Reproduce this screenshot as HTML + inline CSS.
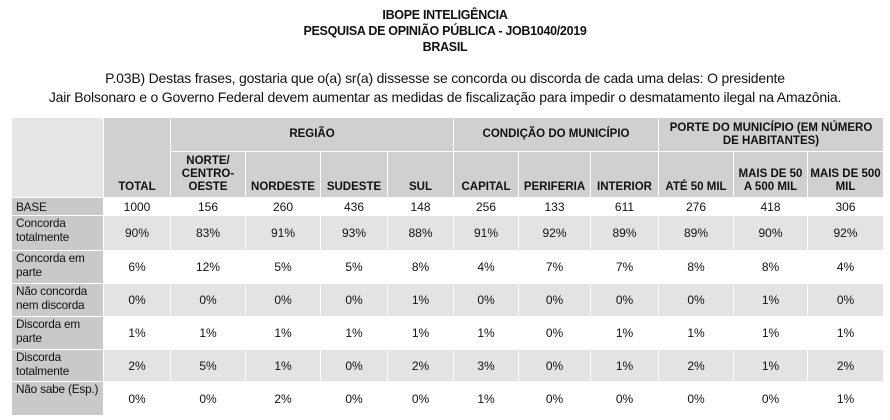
<!DOCTYPE html>
<html><head><meta charset="utf-8">
<style>
body{margin:0;width:890px;height:420px;background:#fff;font-family:"Liberation Sans",sans-serif;color:#111;overflow:hidden;position:relative}
.t{position:absolute;left:0;width:890px;text-align:center;font-weight:bold;font-size:12.5px;letter-spacing:-0.3px}
.q{position:absolute;left:0;width:890px;text-align:center;font-size:14px;letter-spacing:-0.2px}
table{position:absolute;left:11px;top:117px;border-collapse:collapse;table-layout:fixed;font-size:12px}
td,th{border:1px solid #fff;padding:0 2px;text-align:center;overflow:hidden}
th{background:#d0d0d0;font-weight:bold;font-size:11.5px;line-height:13px}
th.sub{vertical-align:bottom;padding-bottom:3px}
td.lab{background:#c9c9c9;text-align:left;padding-left:4px;padding-right:0;line-height:14px;vertical-align:top;font-size:11.8px;letter-spacing:-0.2px}
tr.w td{background:#fff}tr.g td{background:#e3e3e3}
tr td.lab{background:#c9c9c9}
</style></head><body>
<div class="t" style="top:8px">IBOPE INTELIGÊNCIA</div>
<div class="t" style="top:24px">PESQUISA DE OPINIÃO PÚBLICA - JOB1040/2019</div>
<div class="t" style="top:40px">BRASIL</div>
<div class="q" style="top:70px">P.03B) Destas frases, gostaria que o(a) sr(a) dissesse se concorda ou discorda de cada uma delas: O presidente</div>
<div class="q" style="top:89px">Jair Bolsonaro e o Governo Federal devem aumentar as medidas de fiscalização para impedir o desmatamento ilegal na Amazônia.</div>
<table id="tbl">
<colgroup><col style="width:92px"><col style="width:67px"><col style="width:75px"><col style="width:75px"><col style="width:67px"><col style="width:66px"><col style="width:65px"><col style="width:72px"><col style="width:68px"><col style="width:75px"><col style="width:74px"><col style="width:76px"></colgroup>
<tr style="height:34px">
<th rowspan="2" style="background:#e6e6e6"></th>
<th rowspan="2" class="sub">TOTAL</th>
<th colspan="4">REGIÃO</th>
<th colspan="3">CONDIÇÃO DO MUNICÍPIO</th>
<th colspan="3">PORTE DO MUNICÍPIO (EM NÚMERO DE HABITANTES)</th>
</tr>
<tr style="height:46px" id="subrow"></tr>
</table>
<script>
const columns=["NORTE/<br>CENTRO-<br>OESTE","NORDESTE","SUDESTE","SUL","CAPITAL","PERIFERIA","INTERIOR","ATÉ 50 MIL","MAIS DE 50<br>A 500 MIL","MAIS DE 500<br>MIL"];
const rowLabels=["BASE","Concorda totalmente","Concorda em parte","Não concorda nem discorda","Discorda em parte","Discorda totalmente","Não sabe (Esp.)"];
const baseRow=["1000","156","260","436","148","256","133","611","276","418","306"];
const concordaTot=[90,83,91,93,88,91,92,89,89,90,92];
const concordaParte=[6,12,5,5,8,4,7,7,8,8,4];
const naoConcorda=[0,0,0,0,1,0,0,0,0,1,0];
const discordaParte=[1,1,1,1,1,1,0,1,1,1,1];
const discordaTot=[2,5,1,0,2,3,0,1,2,1,2];
const naoSabe=[0,0,2,0,0,1,0,0,0,0,1];
const heights=[18,35,33,33,33,32,34];
const sub=document.getElementById('subrow');
columns.forEach((c,i)=>{const th=document.createElement('th');th.className='sub';th.innerHTML=c;


sub.appendChild(th);});
const tbl=document.getElementById('tbl');
const rows=[baseRow,concordaTot,concordaParte,naoConcorda,discordaParte,discordaTot,naoSabe];
rows.forEach((r,ri)=>{const tr=document.createElement('tr');tr.className=ri%2?'g':'w';tr.style.height=heights[ri]+'px';


const l=document.createElement('td');l.className='lab';l.textContent=rowLabels[ri];
if(ri==0)l.style.verticalAlign='middle';
if(ri==6)l.style.whiteSpace='nowrap';


tr.appendChild(l);
r.forEach(v=>{const td=document.createElement('td');td.textContent=ri==0?v:v+'%';


tr.appendChild(td);});
tbl.appendChild(tr);});
</script>
</body></html>
